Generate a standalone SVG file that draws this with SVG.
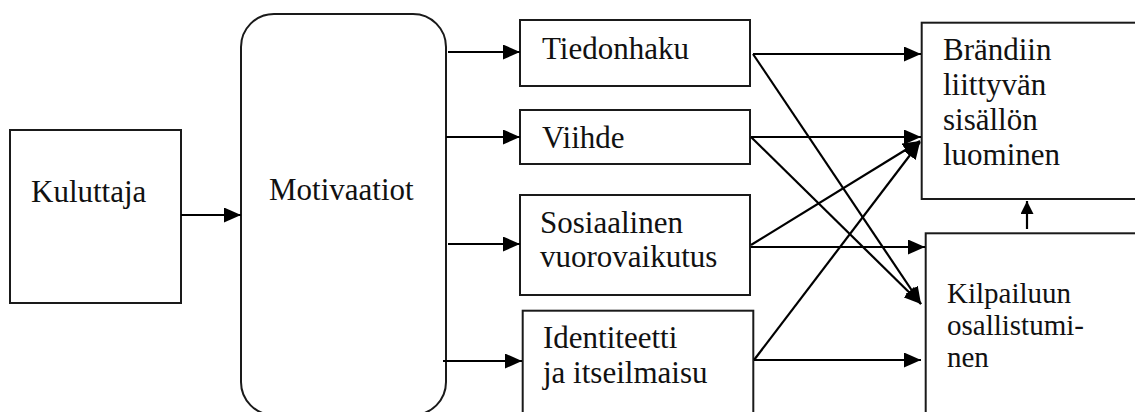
<svg xmlns="http://www.w3.org/2000/svg" width="1135" height="412" viewBox="0 0 1135 412">
<style>
.box{fill:#fff;stroke:#1a1a1a;stroke-width:2}
.lbl{font-family:"Liberation Serif","Times New Roman",serif;font-size:31px;fill:#111}
.sm{font-size:29px}
.con{stroke:#000;stroke-width:2.2;fill:none;marker-end:url(#ah)}
.con2{stroke:#000;stroke-width:2.2;fill:none;marker-end:url(#ahs)}
</style>
<defs>
<marker id="ah" markerUnits="userSpaceOnUse" viewBox="0 0 17 15" refX="17" refY="7.5" markerWidth="17" markerHeight="15" orient="auto">
<path d="M0,0 L17,7.5 L0,15 z" fill="#000"/>
</marker>
<marker id="ahs" markerUnits="userSpaceOnUse" viewBox="0 0 13 13" refX="13" refY="6.5" markerWidth="13" markerHeight="13" orient="auto">
<path d="M0,0 L13,6.5 L0,13 z" fill="#000"/>
</marker>
</defs>
<rect width="1135" height="412" fill="#fff"/>
<g id="kuluttaja">
<rect class="box" x="10" y="130" width="171" height="173"/>
<text class="lbl" x="31" y="202">Kuluttaja</text>
</g>
<g id="motivaatiot">
<rect class="box" x="241" y="14" width="205" height="401" rx="33" ry="33"/>
<text class="lbl" x="269" y="200">Motivaatiot</text>
</g>
<g id="tiedonhaku">
<rect class="box" x="520" y="20" width="230" height="66"/>
<text class="lbl" x="542" y="59">Tiedonhaku</text>
</g>
<g id="viihde">
<rect class="box" x="520" y="110" width="230" height="54"/>
<text class="lbl" x="542" y="147.5">Viihde</text>
</g>
<g id="sosiaalinen">
<rect class="box" x="520" y="195" width="230" height="100"/>
<text class="lbl" x="540" y="233">Sosiaalinen</text>
<text class="lbl" x="540" y="266.7">vuorovaikutus</text>
</g>
<g id="identiteetti">
<rect class="box" x="522.7" y="310.7" width="230.6" height="110"/>
<text class="lbl" x="543" y="347.7">Identiteetti</text>
<text class="lbl" x="543" y="383">ja itseilmaisu</text>
</g>
<g id="brandiin">
<rect class="box" x="921.7" y="22.7" width="225" height="176.3"/>
<text class="lbl" x="943" y="60">Brändiin</text>
<text class="lbl" x="943" y="95">liittyvän</text>
<text class="lbl" x="943" y="130">sisällön</text>
<text class="lbl" x="943" y="165">luominen</text>
</g>
<g id="kilpailuun">
<rect class="box" x="925.7" y="233.3" width="225" height="190"/>
<text class="lbl sm" x="947" y="303">Kilpailuun</text>
<text class="lbl sm" x="947" y="335">osallistumi-</text>
<text class="lbl sm" x="947" y="367">nen</text>
</g>
<g id="connectors">
<line class="con" x1="181" y1="215" x2="241" y2="215"/>
<line class="con" x1="448" y1="52" x2="520" y2="52"/>
<line class="con" x1="446" y1="137" x2="520" y2="137"/>
<line class="con" x1="448" y1="244" x2="520" y2="244"/>
<line class="con" x1="443" y1="361" x2="522" y2="361"/>
<line class="con" x1="753" y1="54" x2="921" y2="54"/>
<line class="con" x1="753" y1="54" x2="921" y2="304"/>
<line class="con" x1="751" y1="137" x2="921" y2="137"/>
<line class="con" x1="751" y1="137" x2="921" y2="304"/>
<line class="con" x1="751" y1="245" x2="920" y2="141"/>
<line class="con" x1="751" y1="247" x2="925" y2="247"/>
<line class="con" x1="754" y1="360" x2="920" y2="142"/>
<line class="con" x1="754" y1="360" x2="921" y2="360"/>
<line class="con2" x1="1027" y1="229" x2="1027" y2="201"/>
</g>
</svg>
